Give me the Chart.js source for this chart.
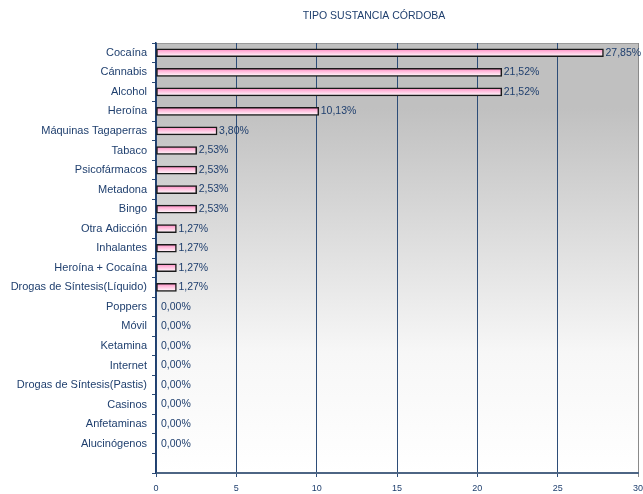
<!DOCTYPE html>
<html>
<head>
<meta charset="utf-8">
<script src="https://cdn.jsdelivr.net/npm/chart.js@4"></script>
<style>
  html, body { margin: 0; padding: 0; background: #ffffff; }
  #wrap { width: 643px; height: 494px; position: relative; }
</style>
</head>
<body>
<div id="wrap"><canvas id="chart"></canvas></div>
<script>
// categories, top to bottom (last slot is empty in the original)
const categories = [
    'Cocaína', 'Cánnabis', 'Alcohol', 'Heroína', 'Máquinas Tagaperras',
    'Tabaco', 'Psicofármacos', 'Metadona', 'Bingo', 'Otra Adicción',
    'Inhalantes', 'Heroína + Cocaína', 'Drogas de Síntesis(Líquido)',
    'Poppers', 'Móvil', 'Ketamina', 'Internet', 'Drogas de Síntesis(Pastis)',
    'Casinos', 'Anfetaminas', 'Alucinógenos', ''
];
const percentages = [
    27.85, 21.52, 21.52, 10.13, 3.80,
    2.53, 2.53, 2.53, 2.53, 1.27,
    1.27, 1.27, 1.27,
    0, 0, 0, 0, 0,
    0, 0, 0, null
];
const xTicks = [0, 5, 10, 15, 20, 25, 30];
const chartTitle = 'TIPO SUSTANCIA CÓRDOBA';

const textBlue = '#1f3f6e';
const gridBlue = '#2d4d78';
const fontFamily = '"Liberation Sans", Arial, sans-serif';

// gray-to-white backdrop behind the bars, plus the title
const plotBackground = {
    id: 'plotBackground',
    beforeDraw(chart) {
        const { ctx, chartArea: a } = chart;
        const g = ctx.createLinearGradient(0, a.top, 0, a.bottom);
        g.addColorStop(0, '#c0c0c0');
        g.addColorStop(0.15, '#c0c0c0');
        g.addColorStop(0.72, '#f7f7f7');
        g.addColorStop(1, '#ffffff');
        ctx.save();
        ctx.fillStyle = g;
        ctx.fillRect(a.left, a.top, a.right - a.left, a.bottom - a.top);
        ctx.strokeStyle = '#9a9a9a';
        ctx.lineWidth = 1;
        ctx.beginPath();
        ctx.moveTo(a.left, a.top + 0.5);
        ctx.lineTo(a.right, a.top + 0.5);
        ctx.stroke();

        ctx.font = '10.5px ' + fontFamily;
        ctx.fillStyle = textBlue;
        ctx.textAlign = 'center';
        ctx.textBaseline = 'middle';
        ctx.fillText(chartTitle, 374, 16);
        ctx.restore();
    }
};

// value labels at the end of every bar
const valueLabels = {
    id: 'valueLabels',
    afterDatasetsDraw(chart) {
        const { ctx } = chart;
        const meta = chart.getDatasetMeta(0);
        ctx.save();
        ctx.font = '10.5px ' + fontFamily;
        ctx.fillStyle = textBlue;
        ctx.textBaseline = 'middle';
        ctx.textAlign = 'left';
        meta.data.forEach((bar, i) => {
            const v = percentages[i];
            if (v === null) return;
            const txt = v.toFixed(2).replace('.', ',') + '%';
            ctx.fillText(txt, bar.x + (v === 0 ? 5 : 2), bar.y);
        });
        ctx.restore();
    }
};

function barFill(context) {
    const chart = context.chart;
    const scale = chart.scales && chart.scales.y;
    if (!scale || !chart.chartArea) return '#ffc0dd';
    const yc = scale.getPixelForValue(context.dataIndex);
    const g = chart.ctx.createLinearGradient(0, yc - 4, 0, yc + 4);
    g.addColorStop(0, '#ff7fbd');
    g.addColorStop(0.35, '#ffb6d9');
    g.addColorStop(1, '#ffffff');
    return g;
}

new Chart(document.getElementById('chart'), {
    type: 'bar',
    data: {
        labels: categories,
        datasets: [{
            data: percentages,
            backgroundColor: barFill,
            borderColor: '#1a1a1a',
            borderWidth: 1.5,
            borderSkipped: false,
            barThickness: 8
        }]
    },
    options: {
        indexAxis: 'y',
        responsive: true,
        maintainAspectRatio: false,
        animation: false,
        layout: { padding: { top: 43, right: 5, left: 0, bottom: 0 } },
        plugins: {
            legend: { display: false },
            tooltip: { enabled: false },
            title: { display: false }
        },
        scales: {
            x: {
                min: 0,
                max: 30,
                afterFit(scale) {
                    scale.height = 21;
                    scale.paddingRight = 0;
                    scale.paddingLeft = 0;
                },
                afterBuildTicks(scale) { scale.ticks = xTicks.map(v => ({ value: v })); },
                grid: {
                    color: ctx => (ctx.tick && ctx.tick.value === 30 ? '#8a8a8a' : gridBlue),
                    lineWidth: 1,
                    tickLength: 4
                },
                border: { color: '#4d6584', width: 2 },
                ticks: {
                    color: textBlue,
                    padding: 6,
                    font: { family: fontFamily, size: 9 }
                }
            },
            y: {
                afterFit(scale) {
                    scale.width = 156;
                    scale.paddingTop = 0;
                    scale.paddingBottom = 0;
                },
                grid: {
                    drawOnChartArea: false,
                    color: gridBlue,
                    tickLength: 4,
                    offset: true
                },
                border: { color: '#1f3f6e', width: 1.5 },
                ticks: {
                    color: textBlue,
                    padding: 5,
                    autoSkip: false,
                    font: { family: fontFamily, size: 11 }
                }
            }
        }
    },
    plugins: [plotBackground, valueLabels]
});
</script>
</body>
</html>
